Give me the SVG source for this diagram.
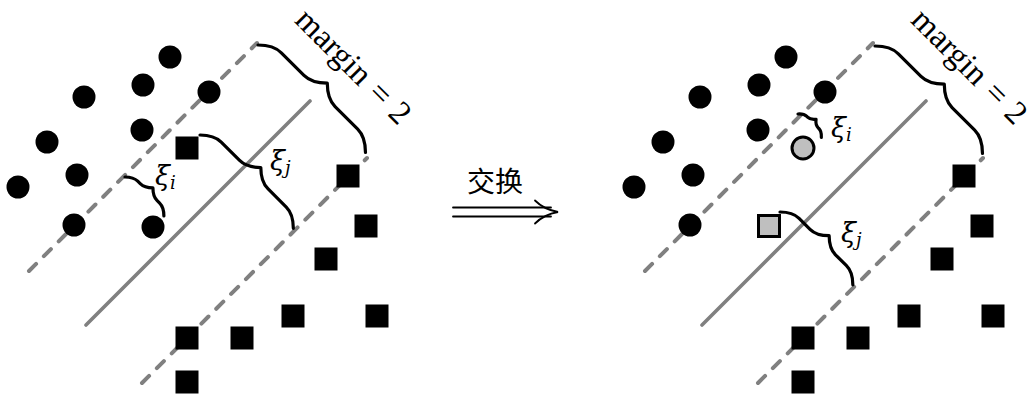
<svg xmlns="http://www.w3.org/2000/svg" xmlns:xlink="http://www.w3.org/1999/xlink" width="1034" height="398" viewBox="0 0 1034 398">
  <style>
    .solid { stroke: #808080; stroke-width: 3.6; stroke-linecap: round; fill: none; }
    .dash { stroke: #808080; stroke-width: 4; stroke-linecap: round; stroke-dasharray: 10 11; fill: none; }
    .brace { stroke: #000; stroke-width: 3.2; fill: none; stroke-linecap: round; stroke-linejoin: round; }
    .math { font-family: "DejaVu Serif", "Liberation Serif", serif; font-style: italic; fill: #000; }
    .margin { font-family: "Liberation Serif", "DejaVu Serif", serif; font-size: 33px; fill: #000; word-spacing: 2px; }
    .cjk { font-family: "Liberation Sans", "Noto Sans CJK SC", sans-serif; font-size: 28px; fill: #000; }
    .arrow { stroke: #000; stroke-width: 1.8; fill: none; stroke-linecap: round; }
    .hl { fill: #bfbfbf; stroke: #000; stroke-width: 3; }
  </style>
  <defs>
    <circle id="dot" r="11.5" fill="#000"/>
    <rect id="box" x="-11.5" y="-11.5" width="23" height="23" fill="#000"/>
    <!-- curly braces in local coordinates; tip points toward -y -->
    <path id="brace-margin" d="M0,0 Q11,-11 22,-11 L54,-11 Q65,-11 76,-22 Q87,-11 98,-11 L130,-11 Q141,-11 152,0"/>
  </defs>
  <rect width="1034" height="398" fill="#fff"/>

  <!-- left panel: before the swap -->
  <g id="left-panel">
    <g id="left-lines">
      <line class="dash" x1="29" y1="271" x2="257" y2="43"/>
      <line class="solid" x1="86" y1="325" x2="310" y2="101"/>
      <line class="dash" x1="142" y1="383" x2="367" y2="158"/>
    </g>
    <g id="left-circles">
      <use xlink:href="#dot" x="170" y="57"/>
      <use xlink:href="#dot" x="143" y="85"/>
      <use xlink:href="#dot" x="209" y="92"/>
      <use xlink:href="#dot" x="84" y="97"/>
      <use xlink:href="#dot" x="47" y="142"/>
      <use xlink:href="#dot" x="142" y="130"/>
      <use xlink:href="#dot" x="18" y="187"/>
      <use xlink:href="#dot" x="77" y="175"/>
      <use xlink:href="#dot" x="74" y="225"/>
      <use xlink:href="#dot" x="153" y="227"/>
    </g>
    <g id="left-squares">
      <use xlink:href="#box" x="187" y="148"/>
      <use xlink:href="#box" x="348" y="176"/>
      <use xlink:href="#box" x="366" y="226"/>
      <use xlink:href="#box" x="326" y="259"/>
      <use xlink:href="#box" x="293" y="316"/>
      <use xlink:href="#box" x="377" y="316"/>
      <use xlink:href="#box" x="242" y="338"/>
      <use xlink:href="#box" x="187" y="338"/>
      <use xlink:href="#box" x="187" y="382"/>
    </g>
    <g id="left-braces">
      <use xlink:href="#brace-margin" class="brace" transform="translate(258,45) rotate(45)"/>
      <path class="brace" transform="translate(200,135) rotate(45)" d="M0,0 Q10,-10 20,-10 L46,-10 Q56,-10 66,-20 Q76,-10 86,-10 L112,-10 Q122,-10 132,0"/>
      <path class="brace" transform="translate(125,177) rotate(45)" d="M0,0 Q6,-6 12,-6 L15.5,-6 Q21.5,-6 27.5,-12 Q33.5,-6 39.5,-6 L43,-6 Q49,-6 55,0"/>
    </g>
    <g id="left-labels">
      <text class="margin" transform="translate(346,74) rotate(45)" text-anchor="middle">margin = 2</text>
      <text class="math" x="155" y="185" font-size="27">ξ<tspan font-size="18" dy="4">i</tspan></text>
      <text class="math" x="270" y="170" font-size="27">ξ<tspan font-size="18" dy="4">j</tspan></text>
    </g>
  </g>

  <!-- swap arrow -->
  <g id="swap">
    <text class="cjk" x="495" y="192" text-anchor="middle">交换</text>
    <line class="arrow" x1="453" y1="207.5" x2="551" y2="207.5"/>
    <line class="arrow" x1="453" y1="216.5" x2="551" y2="216.5"/>
    <path class="arrow" d="M535,200.5 Q544,209.5 558,212 Q544,214.5 535,223.5"/>
  </g>

  <!-- right panel: after the swap -->
  <g id="right-panel">
    <g id="right-lines">
      <line class="dash" x1="645" y1="271" x2="873" y2="43"/>
      <line class="solid" x1="702" y1="325" x2="926" y2="101"/>
      <line class="dash" x1="758" y1="383" x2="983" y2="158"/>
    </g>
    <g id="right-circles">
      <use xlink:href="#dot" x="786" y="57"/>
      <use xlink:href="#dot" x="759" y="85"/>
      <use xlink:href="#dot" x="825" y="92"/>
      <use xlink:href="#dot" x="700" y="97"/>
      <use xlink:href="#dot" x="663" y="142"/>
      <use xlink:href="#dot" x="758" y="130"/>
      <use xlink:href="#dot" x="634" y="187"/>
      <use xlink:href="#dot" x="693" y="175"/>
      <use xlink:href="#dot" x="690" y="225"/>
    </g>
    <g id="right-squares">
      <use xlink:href="#box" x="964" y="176"/>
      <use xlink:href="#box" x="982" y="226"/>
      <use xlink:href="#box" x="942" y="259"/>
      <use xlink:href="#box" x="909" y="316"/>
      <use xlink:href="#box" x="993" y="316"/>
      <use xlink:href="#box" x="858" y="338"/>
      <use xlink:href="#box" x="803" y="338"/>
      <use xlink:href="#box" x="803" y="382"/>
    </g>
    <g id="swapped-circle">
      <circle class="hl" cx="803" cy="148" r="11"/>
    </g>
    <g id="swapped-square">
      <rect class="hl" x="758.5" y="215.5" width="21" height="21"/>
    </g>
    <g id="right-braces">
      <use xlink:href="#brace-margin" class="brace" transform="translate(875,46) rotate(45)"/>
      <path class="brace" transform="translate(780,212) rotate(45)" d="M0,0 Q9,-9 18,-9 L33.5,-9 Q42.5,-9 51.5,-18 Q60.5,-9 69.5,-9 L85,-9 Q94,-9 103,0"/>
      <path class="brace" transform="translate(798,114) rotate(45)" d="M0,0 Q4,-4.5 8,-4.5 L9,-4.5 Q13,-4.5 16.5,-9 Q20,-4.5 24,-4.5 L25,-4.5 Q29,-4.5 33,0"/>
    </g>
    <g id="right-labels">
      <text class="margin" transform="translate(962,74) rotate(45)" text-anchor="middle">margin = 2</text>
      <text class="math" x="831" y="137" font-size="27">ξ<tspan font-size="18" dy="4">i</tspan></text>
      <text class="math" x="841" y="242" font-size="27">ξ<tspan font-size="18" dy="4">j</tspan></text>
    </g>
  </g>
</svg>
